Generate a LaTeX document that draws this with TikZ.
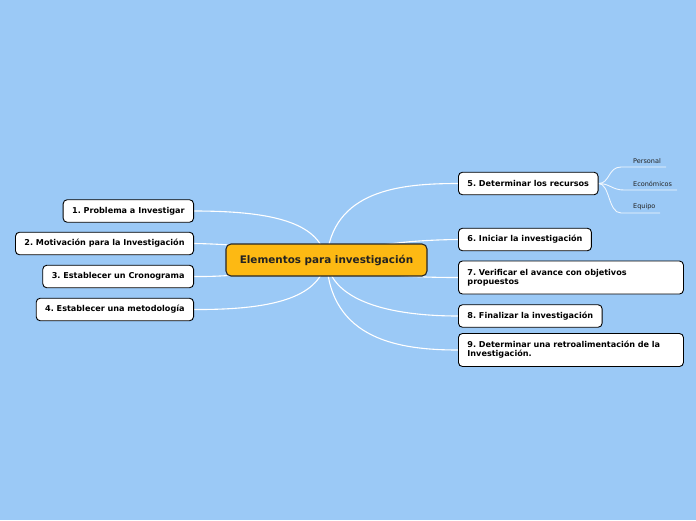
\documentclass[tikz,border=0pt]{standalone}
\usepackage{fontspec}
\setmainfont{DejaVu Sans}
\usetikzlibrary{backgrounds}
\definecolor{bgblue}{HTML}{9BC9F6}
\definecolor{centfill}{HTML}{FDB913}
\definecolor{txtdark}{HTML}{222222}
\frenchspacing
\tikzset{
  topicbox/.style={draw=black, line width=0.9pt, fill=white, rounded corners=4pt,
    font=\fontsize{8.1}{9.2}\selectfont\bfseries, text=black, inner xsep=9pt,
    minimum height=22.5pt},
  widebox/.style={topicbox, text width=207pt, align=left, minimum height=33pt},
  centbox/.style={draw=black!85, line width=1.1pt, fill=centfill, rounded corners=5pt,
    font=\fontsize{10.4}{12}\selectfont\bfseries, text=txtdark, minimum width=201pt,
    minimum height=32pt},
  subtxt/.style={font=\fontsize{6.5}{7.5}\selectfont, text=txtdark, inner sep=0pt, anchor=west},
  conn/.style={draw=white, line width=1.1pt},
  subconn/.style={draw=white!85!bgblue, line width=0.9pt}
}
\begin{document}
\hyphenpenalty=10000
\begin{tikzpicture}[x=1pt,y=-1pt]
\useasboundingbox (0,0) rectangle (696,520);
\node[centbox] (c) at (326.5,260) {Elementos para investigación};
\node[topicbox, anchor=east] (n1) at (194,211) {1. Problema a Investigar};
\node[topicbox, anchor=east] (n2) at (194,243.5) {2. Motivación para la Investigación};
\node[topicbox, anchor=east] (n3) at (194,276.5) {3. Establecer un Cronograma};
\node[topicbox, anchor=east] (n4) at (194,309.5) {4. Establecer una metodología};
\node[topicbox, anchor=west] (n5) at (458,183.5) {5. Determinar los recursos};
\node[topicbox, anchor=west] (n6) at (458,239.5) {6. Iniciar la investigación};
\node[widebox, anchor=west] (n7) at (458,277.5) {7. Verificar el avance con objetivos propuestos};
\node[topicbox, anchor=west] (n8) at (458,316) {8. Finalizar la investigación};
\node[widebox, anchor=west] (n9) at (458,350) {9. Determinar una retroalimentación de la Investigación.};
\node[subtxt] (s1) at (633,161) {Personal};
\node[subtxt] (s2) at (633,184) {Económicos};
\node[subtxt] (s3) at (633,207) {Equipo};
\coordinate (s1l) at (621,167); \coordinate (s1r) at (666,167);
\coordinate (s2l) at (624,190); \coordinate (s2r) at (677,190);
\coordinate (s3l) at (621,213); \coordinate (s3r) at (660,213);
\begin{scope}[on background layer]
\fill[bgblue] (0,0) rectangle (696,520);
\path[conn] (c.center) .. controls (320,225) and (280,211) .. (n1.east);
\path[conn] (c.center) .. controls (280,248) and (230,244) .. (n2.east);
\path[conn] (c.center) .. controls (280,272) and (230,277) .. (n3.east);
\path[conn] (c.center) .. controls (320,295) and (280,310) .. (n4.east);
\path[conn] (c.center) .. controls (332,190) and (400,183.5) .. (n5.west);
\path[conn] (c.center) .. controls (360,245) and (410,240) .. (n6.west);
\path[conn] (c.center) .. controls (360,275) and (410,277.5) .. (n7.west);
\path[conn] (c.center) .. controls (332,305) and (400,316) .. (n8.west);
\path[conn] (c.center) .. controls (330,340) and (400,350) .. (n9.west);
\path[subconn] (n5.east) .. controls (610,183.5) and (608,167) .. (s1l) -- (s1r);
\path[subconn] (n5.east) .. controls (610,183.5) and (612,190) .. (s2l) -- (s2r);
\path[subconn] (n5.east) .. controls (610,183.5) and (608,213) .. (s3l) -- (s3r);
\end{scope}
\end{tikzpicture}
\end{document}
